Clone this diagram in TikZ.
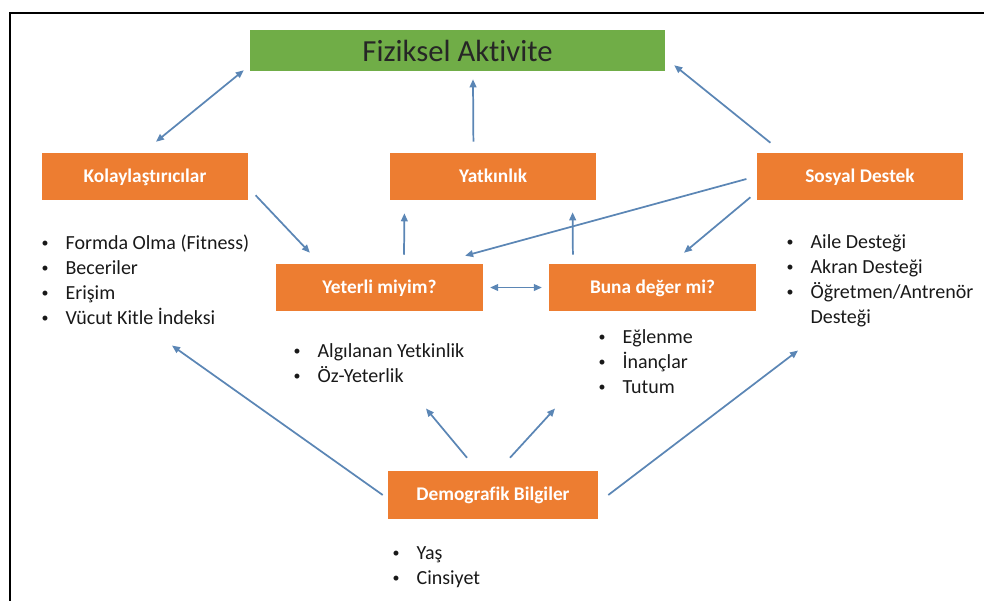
\documentclass[tikz,border=0pt]{standalone}
\usepackage{fontspec}
\setmainfont{Carlito}[Ligatures=NoCommon]
\usetikzlibrary{arrows.meta}
\definecolor{boxorange}{RGB}{237,125,49}
\definecolor{boxgreen}{RGB}{112,173,71}
\definecolor{linkblue}{RGB}{91,134,181}
\newcommand{\itm}[1]{\makebox[19pt][l]{\hspace{1pt}\raisebox{.25ex}{\scalebox{.7}{\textbullet}}}#1}

\begin{document}
\begin{tikzpicture}[x=0.75pt,y=0.75pt,yscale=-1,xscale=1,
  factor/.style={fill=boxorange,text=white,font=\fontsize{14.5}{17}\selectfont\bfseries,minimum width=155pt,minimum height=35.25pt,inner sep=0pt,text height=0.85em,text depth=0.02em},
  outcome/.style={fill=boxgreen,text=black!85,font=\fontsize{23}{27}\selectfont,minimum width=311.25pt,minimum height=30.75pt,inner sep=0pt},
  itemlist/.style={anchor=north west,inner sep=0pt,font=\fontsize{15}{18.75}\selectfont,text=black!90},
  link/.style={draw=linkblue,line width=1.3pt,-{Triangle[length=6pt,width=5pt]}},
  twolink/.style={link,{Triangle[length=6pt,width=5pt]}-{Triangle[length=6pt,width=5pt]}}
]
\useasboundingbox (0,0) rectangle (984,601);
%Shape: Frame
\draw[line width=1.1pt] (984,13) -- (10,13) -- (10,601);

%Shape: Rectangle
\node[outcome] (fiz) at (457.5,50.5) {Fiziksel Aktivite};
\node[factor] (kolay) at (145,176.5) {Kolaylaştırıcılar};
\node[factor] (yatk) at (493,176.5) {Yatkınlık};
\node[factor] (sosyal) at (860,176.5) {Sosyal Destek};
\node[factor] (yeterli) at (379.5,287.5) {Yeterli miyim?};
\node[factor] (buna) at (652.5,287.5) {Buna değer mi?};
\node[factor,minimum width=157.5pt,minimum height=36pt] (demo) at (493,495) {Demografik Bilgiler};

% Text Node
\node[itemlist] (kolaylist) at (40,232) {\begin{tabular}{@{}l@{}}\itm{Formda Olma (Fitness)}\\ \itm{Beceriler}\\ \itm{Erişim}\\ \itm{Vücut Kitle İndeksi}\end{tabular}};
% Text Node
\node[itemlist] (yeterlilist) at (292,340) {\begin{tabular}{@{}l@{}}\itm{Algılanan Yetkinlik}\\ \itm{Öz-Yeterlik}\end{tabular}};
% Text Node
\node[itemlist] (bunalist) at (597,326) {\begin{tabular}{@{}l@{}}\itm{Eğlenme}\\ \itm{İnançlar}\\ \itm{Tutum}\end{tabular}};
% Text Node
\node[itemlist] (sosyallist) at (785,231) {\begin{tabular}{@{}l@{}}\itm{Aile Desteği}\\ \itm{Akran Desteği}\\ \itm{Öğretmen/Antrenör}\\ \hspace*{19pt}Desteği\end{tabular}};
% Text Node
\node[itemlist] (demolist) at (391,542) {\begin{tabular}{@{}l@{}}\itm{Yaş}\\ \itm{Cinsiyet}\end{tabular}};

%Straight Lines
\draw[twolink] ([shift={(11,-11)}]kolay.north) -- ([shift={(-6,-1)}]fiz.south west);
\draw[link] ([shift={(84,-11)}]yatk.north west) -- ([shift={(15.5,8)}]fiz.south);
\draw[link] ([shift={(14,-10)}]sosyal.north west) -- ([shift={(9,-6)}]fiz.south east);
\draw[link] ([shift={(7,-5)}]kolay.south east) -- ([shift={(34,-11)}]yeterli.north west);
\draw[link] ([shift={(24.5,-9)}]yeterli.north) -- ([shift={(15,13)}]yatk.south west);
\draw[link] ([shift={(24,-9)}]buna.north west) -- ([shift={(-24,12)}]yatk.south east);
\draw[link] ([shift={(-10,2.5)}]sosyal.west) -- ([shift={(-18,-8)}]yeterli.north east);
\draw[link] ([shift={(-6,-3)}]sosyal.south west) -- ([shift={(31.5,-11)}]buna.north);
\draw[twolink] ([shift={(7,0)}]yeterli.east) -- ([shift={(-7,0)}]buna.west);
%Straight Lines
\draw[link] ([shift={(-5,0)}]demo.west) -- ([shift={(132,13)}]kolaylist.south west);
\draw[link] ([shift={(-26,-13)}]demo.north) -- ([shift={(134,18)}]yeterlilist.south west);
\draw[link] ([shift={(17,-13)}]demo.north) -- ([shift={(-42,7)}]bunalist.south west);
\draw[link] ([shift={(10,0)}]demo.east) -- ([shift={(13,19)}]sosyallist.south west);

\end{tikzpicture}
\end{document}
